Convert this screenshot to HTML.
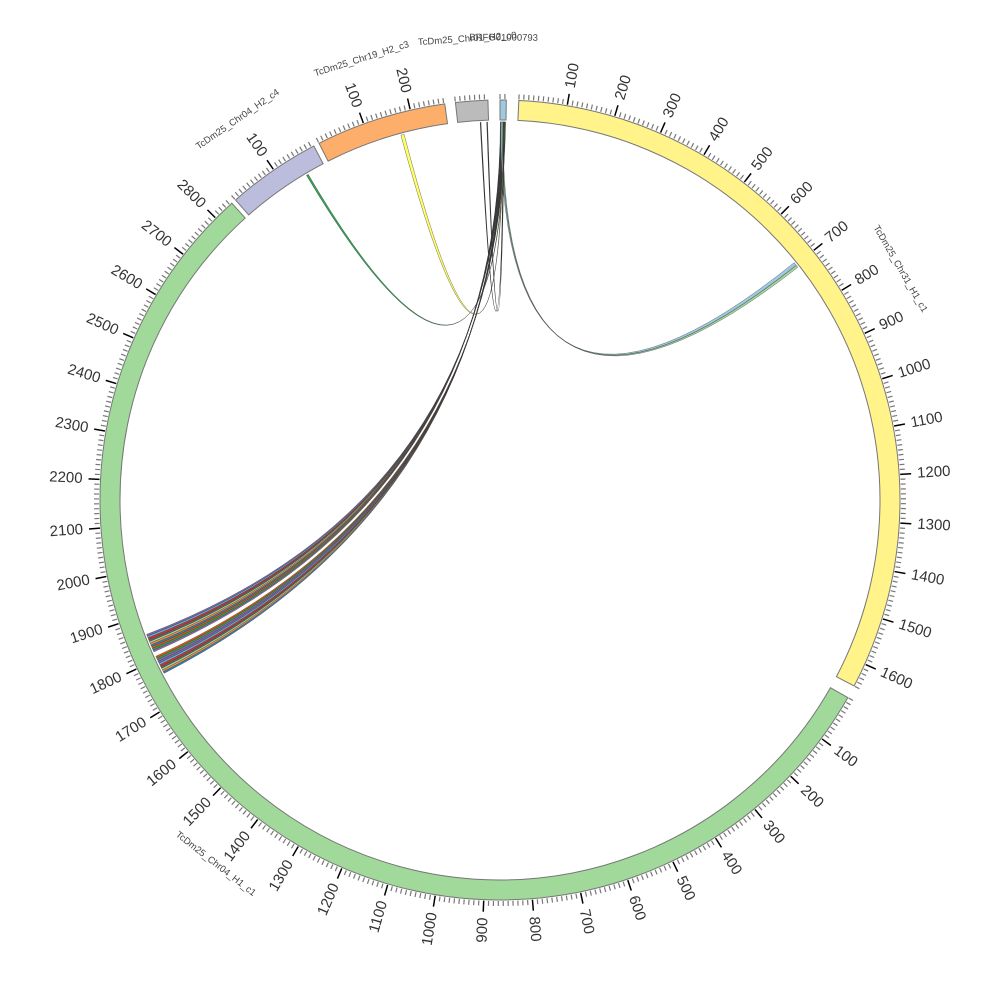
<!DOCTYPE html>
<html><head><meta charset="utf-8"><style>body{margin:0;background:#fff}svg{display:block}</style></head>
<body>
<svg id="s" width="1000" height="1000" xmlns="http://www.w3.org/2000/svg" font-family="Liberation Sans, sans-serif"></svg>
<script>
const S=document.getElementById('s');const cx=500,cy=500,R0=380,R1=400,K=0.0697;
function P(a,r){const t=a*Math.PI/180;return [cx+r*Math.sin(t),cy-r*Math.cos(t)];}
let h='';
const segs=[
 {n:'BRFG01000793',a:0.0,len:13,c:'#9ecae1'},
 {n:'TcDm25_Chr31_H1_c1',a:2.7,len:1650,c:'#fff38a'},
 {n:'TcDm25_Chr04_H1_c1',a:119.6,len:2845,c:'#a1d99b'},
 {n:'TcDm25_Chr04_H2_c4',a:318.6,len:196,c:'#bcbddc'},
 {n:'TcDm25_Chr19_H2_c3',a:333.1,len:272,c:'#fdae6b'},
 {n:'TcDm25_Chr01_H2_c0',a:353.6,len:67,c:'#bbbbbb'}];
for(const s of segs){
 const e=s.a+s.len*K;const large=(e-s.a)>180?1:0;
 const [x1,y1]=P(s.a,R1),[x2,y2]=P(e,R1),[x3,y3]=P(e,R0),[x4,y4]=P(s.a,R0);
 h+=`<path d="M${x1},${y1}A${R1},${R1} 0 ${large} 1 ${x2},${y2}L${x3},${y3}A${R0},${R0} 0 ${large} 0 ${x4},${y4}Z" fill="${s.c}" stroke="#777" stroke-width="1"/>`;
 for(let u=0;u<=s.len;u+=10){const a=s.a+u*K;const maj=u%100==0&&u>0;
  const [a1,b1]=P(a,R1+1),[a2,b2]=P(a,R1+(maj?12:6));
  h+=`<line x1="${a1}" y1="${b1}" x2="${a2}" y2="${b2}" stroke="${maj?'#000':'#777'}" stroke-width="${maj?1.5:1.2}"/>`;
  if(maj){const [tx,ty]=P(a,418);let rot,anc;
   if(a<180){rot=a-90;anc='start';}else{rot=a+90;anc='end';}
   h+=`<text x="${tx}" y="${ty}" font-size="15" fill="#333" text-anchor="${anc}" dominant-baseline="central" transform="rotate(${rot} ${tx} ${ty})">${u}</text>`;}
 }
 const m=(s.a+e)/2;let la=m,rr=462;
 if(s.n=='TcDm25_Chr04_H1_c1'){la=218;}
 if(s.n=='TcDm25_Chr31_H1_c1'){la=60;}
 const [lx,ly]=P(la,rr);let rot=(la>90&&la<270)?la-180:la;
 h+=`<text x="${lx}" y="${ly}" font-size="9.5" fill="#444" text-anchor="middle" dominant-baseline="central" transform="rotate(${rot} ${lx} ${ly})">${s.n}</text>`;
}
function rib(a1,a2,b1,b2,c,sw){const r=378;
 const p1=P(a1,r),p2=P(a2,r),q1=P(b1,r),q2=P(b2,r);
 h+=`<path d="M${p1}A${r},${r} 0 0 1 ${p2}Q${cx},${cy} ${q1}A${r},${r} 0 0 1 ${q2}Q${cx},${cy} ${p1}Z" fill="${c}" stroke="#333" stroke-width="${sw||0.35}"/>`;}
const cols=['#8c6bb1','#31a354','#e6550d','#3182bd','#fd8d3c','#a1d99b','#636363','#de2d26','#6baed6','#756bb1'];
for(let i=0;i<10;i++){const b=246.3+i*0.29;rib(0.05+i*0.04,0.09+i*0.04,b,b+0.27,cols[i]);}
for(let i=0;i<10;i++){const b=242.7+i*0.29;rib(0.45+i*0.04,0.49+i*0.04,b,b+0.27,cols[(i+3)%10]);}
rib(0.1,0.3,51.1,51.6,'#9ecae1');rib(0.3,0.45,51.65,52.0,'#a1d99b');
rib(0.7,0.8,329.2,329.5,'#31a354');
rib(0.5,0.6,344.8,345.3,'#ffff66');
rib(0.55,0.6,357.0,357.1,'#fff',0.6);rib(0.6,0.65,358.0,358.1,'#fff',0.6);
S.innerHTML=h;
</script>
</body></html>
